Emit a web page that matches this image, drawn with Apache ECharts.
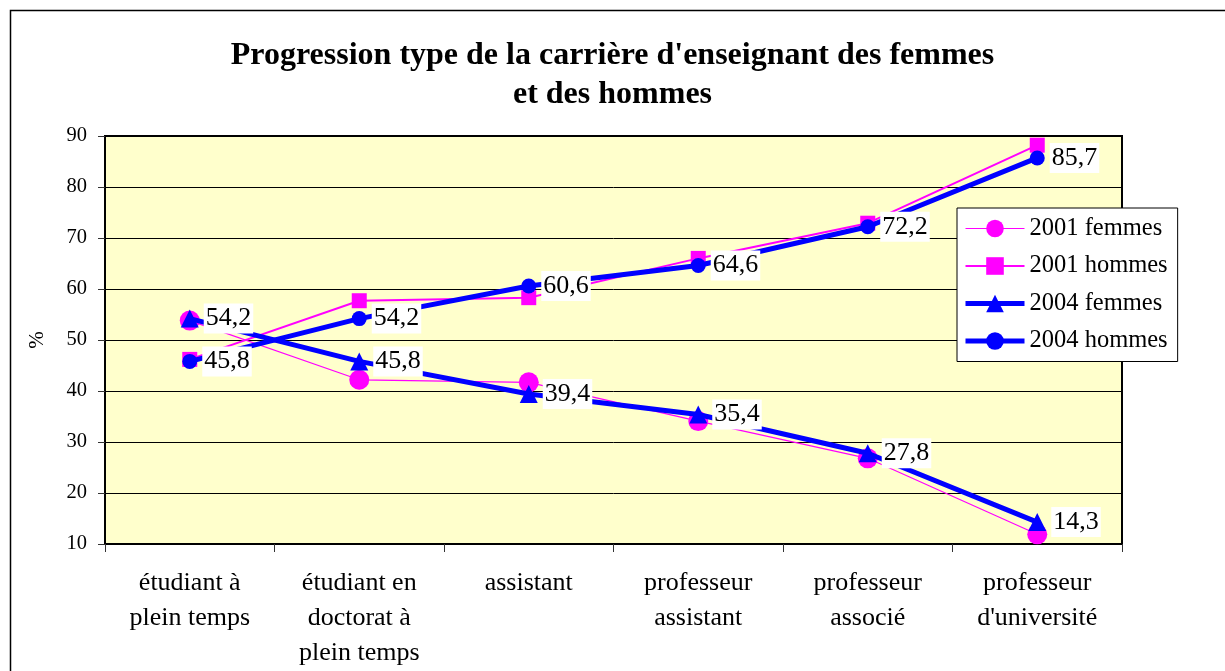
<!DOCTYPE html>
<html><head><meta charset="utf-8">
<script src="https://cdn.jsdelivr.net/npm/echarts@6/dist/echarts.min.js"></script>
<style>html,body{margin:0;padding:0;background:#fff}#c{width:1225px;height:671px}</style>
</head><body><div id="c"></div>
<script>
const categories = ['étudiant à\nplein temps', 'étudiant en\ndoctorat à\nplein temps', 'assistant', 'professeur\nassistant', 'professeur\nassocié', "professeur\nd'université"];
const femmes2001 = [53.8, 42.2, 41.7, 34.1, 26.8, 11.9];
const hommes2001 = [46.2, 57.7, 58.3, 66.0, 72.9, 88.2];
const femmes2004 = [54.2, 45.8, 39.4, 35.4, 27.8, 14.3];
const hommes2004 = [45.8, 54.2, 60.6, 64.6, 72.2, 85.7];
const yTicks = [10, 20, 30, 40, 50, 60, 70, 80, 90];

const FONT = '"Liberation Serif", "Times New Roman", serif';
const chart = echarts.init(document.getElementById('c'), null, {renderer: 'canvas'});
const lbl = {
  show: true, position: 'right', distance: 5,
  formatter: p => String(p.value).replace('.', ','),
  color: '#000', fontFamily: FONT, fontSize: 26,
  backgroundColor: '#fff', padding: [3, 2, 1, 2]
};
chart.setOption({
  animation: false,
  backgroundColor: '#fff',
  graphic: [{type: 'rect', shape: {x: 10.5, y: 10.5, width: 1300, height: 800}, style: {fill: 'none', stroke: '#000', lineWidth: 1.5}, z: -1}],
  title: {
    text: "Progression type de la carrière d'enseignant des femmes\net des hommes",
    left: 'center', top: 31,
    textStyle: {fontFamily: FONT, fontSize: 32, fontWeight: 'bold', color: '#000', lineHeight: 39}
  },
  legend: {
    orient: 'vertical', left: 957, top: 208,
    backgroundColor: '#fff', borderColor: '#000', borderWidth: 1,
    padding: [8, 10, 8, 6], itemGap: 12.5, itemWidth: 59, itemHeight: 22,
    textStyle: {fontFamily: FONT, fontSize: 24.5, color: '#000', lineHeight: 25},
    data: [
      {name: '2001 femmes', lineStyle: {width: 1.2}},
      {name: '2001 hommes', lineStyle: {width: 2}},
      {name: '2004 femmes', lineStyle: {width: 5}},
      {name: '2004 hommes', lineStyle: {width: 5}}
    ]
  },
  grid: {left: 105, right: 103, top: 136, bottom: 124, show: true, backgroundColor: '#FFFFCC', borderColor: '#000', borderWidth: 2},
  xAxis: {
    type: 'category', data: categories, boundaryGap: true,
    axisLine: {lineStyle: {color: '#000', width: 2}},
    axisTick: {show: true, length: 8, lineStyle: {color: '#333'}},
    axisLabel: {fontFamily: FONT, fontSize: 26, color: '#000', lineHeight: 35, margin: 22, interval: 0}
  },
  yAxis: {
    type: 'value', min: 10, max: 90, interval: 10,
    name: '%', nameLocation: 'middle', nameGap: 57, nameRotate: 90,
    nameTextStyle: {fontFamily: FONT, fontSize: 21, color: '#000'},
    axisLine: {show: true, lineStyle: {color: '#000', width: 2}},
    axisTick: {show: true, length: 7, lineStyle: {color: '#333'}},
    axisLabel: {fontFamily: FONT, fontSize: 20.5, color: '#000', margin: 18,
      formatter: v => yTicks.includes(v) ? String(v) : ''},
    splitLine: {show: true, lineStyle: {color: '#000', width: 1}}
  },
  series: [
    {name: '2001 femmes', type: 'line', data: femmes2001, symbol: 'circle', symbolSize: 20,
      itemStyle: {color: '#FF00FF'}, lineStyle: {color: '#FF00FF', width: 1.2}, z: 2},
    {name: '2001 hommes', type: 'line', data: hommes2001, symbol: 'rect', symbolSize: 15,
      itemStyle: {color: '#FF00FF'}, lineStyle: {color: '#FF00FF', width: 2}, z: 2},
    {name: '2004 femmes', type: 'line', data: femmes2004, symbol: 'triangle', symbolSize: 18,
      itemStyle: {color: '#0000FF'}, lineStyle: {color: '#0000FF', width: 5}, label: lbl, z: 3},
    {name: '2004 hommes', type: 'line', data: hommes2004, symbol: 'circle', symbolSize: 15,
      itemStyle: {color: '#0000FF'}, lineStyle: {color: '#0000FF', width: 5}, label: lbl, z: 3}
  ]
});
</script></body></html>
